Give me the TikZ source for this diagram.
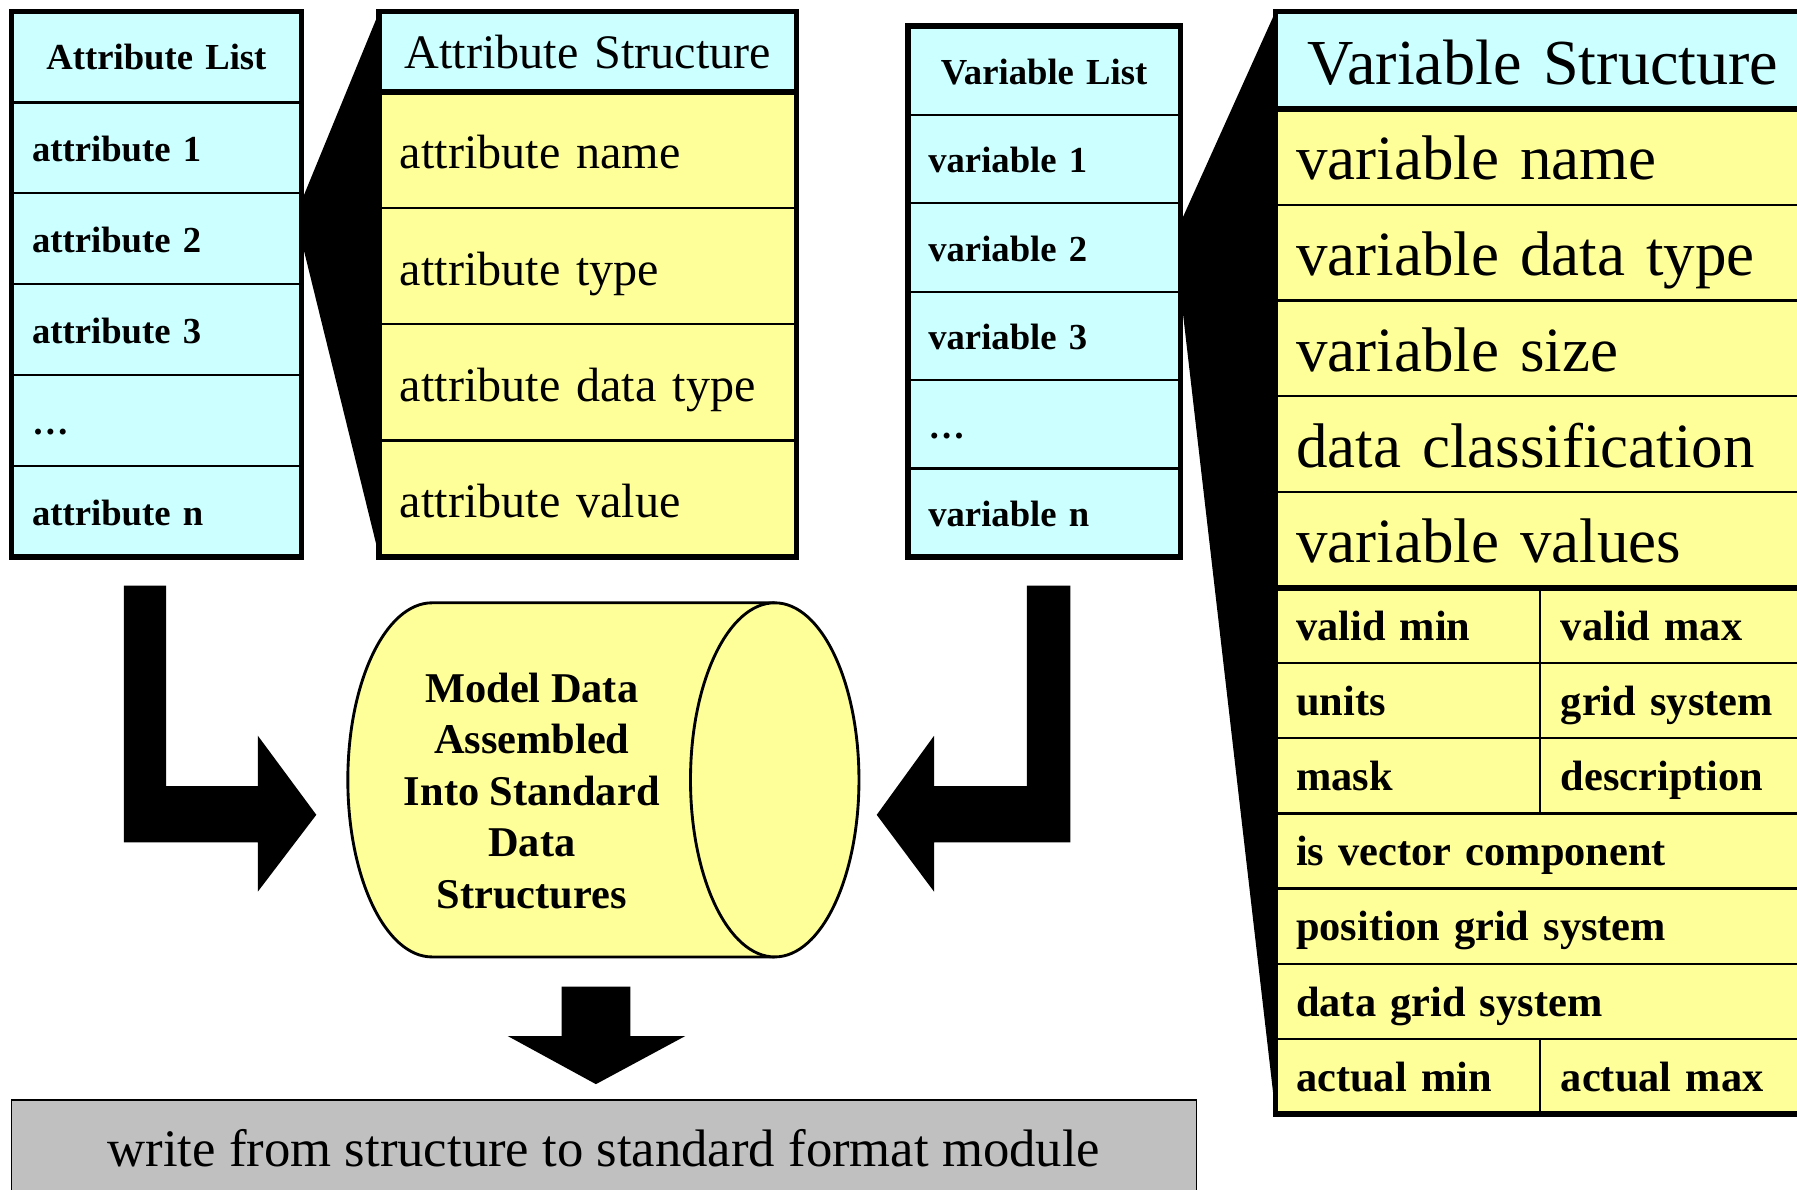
\documentclass[tikz,border=0pt]{standalone}
\usepackage{fontspec}
\setmainfont{Liberation Serif}
\usetikzlibrary{calc}

\definecolor{listcyan}{HTML}{CCFFFF}
\definecolor{fieldyellow}{HTML}{FFFF99}
\definecolor{modulegray}{HTML}{C0C0C0}

\tikzset{
  cell/.style={draw, line width=2pt, anchor=north west, outer sep=0pt, inner xsep=18pt, inner ysep=0pt, align=left, text depth=0pt},
  alcell/.style={cell, fill=listcyan, text width=217pt, minimum height=79.33pt, text height=24pt, font=\fontsize{32}{36}\selectfont\bfseries},
  vlcell/.style={cell, fill=listcyan, text width=202pt, minimum height=77.17pt, text height=24pt, font=\fontsize{32}{36}\selectfont\bfseries},
  ascell/.style={cell, fill=fieldyellow, text width=328pt, minimum height=101.5pt, text height=33pt, font=\fontsize{42}{46}\selectfont},
  vscell/.style={cell, fill=fieldyellow, text width=431pt, minimum height=83.6pt, text height=40pt, font=\fontsize{55}{60}\selectfont},
  vsfield/.style={cell, fill=fieldyellow, text width=#1, minimum height=65.57pt, text height=26pt, font=\fontsize{37}{42}\selectfont\bfseries},
  headcell/.style={fill=listcyan, align=center},
  boxframe/.style={draw, line width=5pt},
  wedge/.style={fill=black},
  blockarrow/.style={fill=black}
}

\begin{document}
\begin{tikzpicture}[x=1pt,y=1pt]
\useasboundingbox (0,0) rectangle (1568,1038);
\node[alcell,headcell,text height=22pt] (al0) at (10,1028) {Attribute List};
\foreach \t [count=\i] in {attribute 1,attribute 2,attribute 3,\ldots,attribute n}
  \node[alcell] (al\i) at (10,{1028-79.33*\i}) {\t};
\node[ascell,headcell,minimum height=70pt,text height=30pt] (as0) at (331,1028) {Attribute Structure};
\foreach \t [count=\i] in {attribute name,attribute type,attribute data type,attribute value}
  \node[ascell] (as\i) at (331,{958-101.5*(\i-1)}) {\t};
\node[vlcell,headcell] (vl0) at (792,1015) {Variable List};
\foreach \t [count=\i] in {variable 1,variable 2,variable 3,\ldots,variable n}
  \node[vlcell] (vl\i) at (792,{1015-77.17*\i}) {\t};
\node[vscell,headcell,minimum height=85pt,text height=42pt,font=\fontsize{56}{60}\selectfont] (vs0) at (1113,1028) {Variable Structure};
\foreach \t [count=\i] in {variable name,variable data type,variable size,data classification,variable values}
  \node[vscell] (vs\i) at (1113,{943-83.6*(\i-1)}) {\t};
\foreach \l/\r/\i in {valid min/valid max/6,units/grid system/7,mask/description/8,actual min/actual max/12}{
  \node[vsfield=195pt] (vs\i) at (1113,{525-65.57*(\i-6)}) {\l};
  \node[vsfield=200pt] (vsr\i) at (1344,{525-65.57*(\i-6)}) {\r};
}
\foreach \t/\i in {is vector component/9,position grid system/10,data grid system/11}
  \node[vsfield=431pt] (vs\i) at (1113,{525-65.57*(\i-6)}) {\t};

\fill[wedge] ($(al2.north east)+(0,-7)$) -- (as0.north west) -- (as4.south west) -- ($(al2.north east)+(0,-41)$) -- cycle;
\fill[wedge] ($(vl2.north east)+(0,-17)$) -- (vs0.north west) -- (vs12.south west) -- (vl2.south east) -- cycle;
\draw[boxframe] (al0.north west) rectangle (al5.south east);
\draw[boxframe] (as0.north west) rectangle (as4.south east);
\draw[boxframe] (as0.south west) -- (as0.south east);
\draw[boxframe] (vl0.north west) rectangle (vl5.south east);
\draw[boxframe] (vs0.north west) rectangle (vsr12.south east);
\draw[boxframe] (vs0.south west) -- (vs0.south east);
\draw[boxframe] (vs5.south west) -- (vs5.south east);

\draw[line width=2.5pt, fill=fieldyellow] (676,512) -- (377,512) arc[start angle=90,end angle=270,x radius=73.5,y radius=154.5] -- (676,203);
\draw[line width=2.5pt, fill=fieldyellow] (676,357.5) ellipse[x radius=73.5,y radius=154.5];
\node[font=\fontsize{37}{45}\selectfont\bfseries, align=center] (cyl) at (464,348) {Model Data\\Assembled\\Into Standard\\Data\\Structures};

\node[draw, line width=1.5pt, fill=modulegray, anchor=north west, outer sep=0pt, minimum width=1034pt, minimum height=120pt, text height=32pt, text depth=36pt, font=\fontsize{46}{50}\selectfont] (writebox) at (10,78) {write from structure to standard format module};

\fill[blockarrow] ($(al5.south)+(-28.5,-25)$) -- ++(37,0) -- ++(0,-175) -- ++(80,0) -- ++(0,44) -- ++(51,-69) -- ++(-51,-67) -- ++(0,43) -- ++(-117,0) -- cycle;
\fill[blockarrow] ($(vl5.south)+(23,-25)$) -- ++(-38,0) -- ++(0,-175) -- ++(-81,0) -- ++(0,44) -- ++(-50,-69) -- ++(50,-67) -- ++(0,43) -- ++(119,0) -- cycle;
\fill[blockarrow] ($(writebox.north)+(-37,99)$) -- ++(60,0) -- ++(0,-43) -- ++(48,0) -- ++(-78,-42) -- ++(-77,42) -- ++(47,0) -- cycle;
\end{tikzpicture}
\end{document}
